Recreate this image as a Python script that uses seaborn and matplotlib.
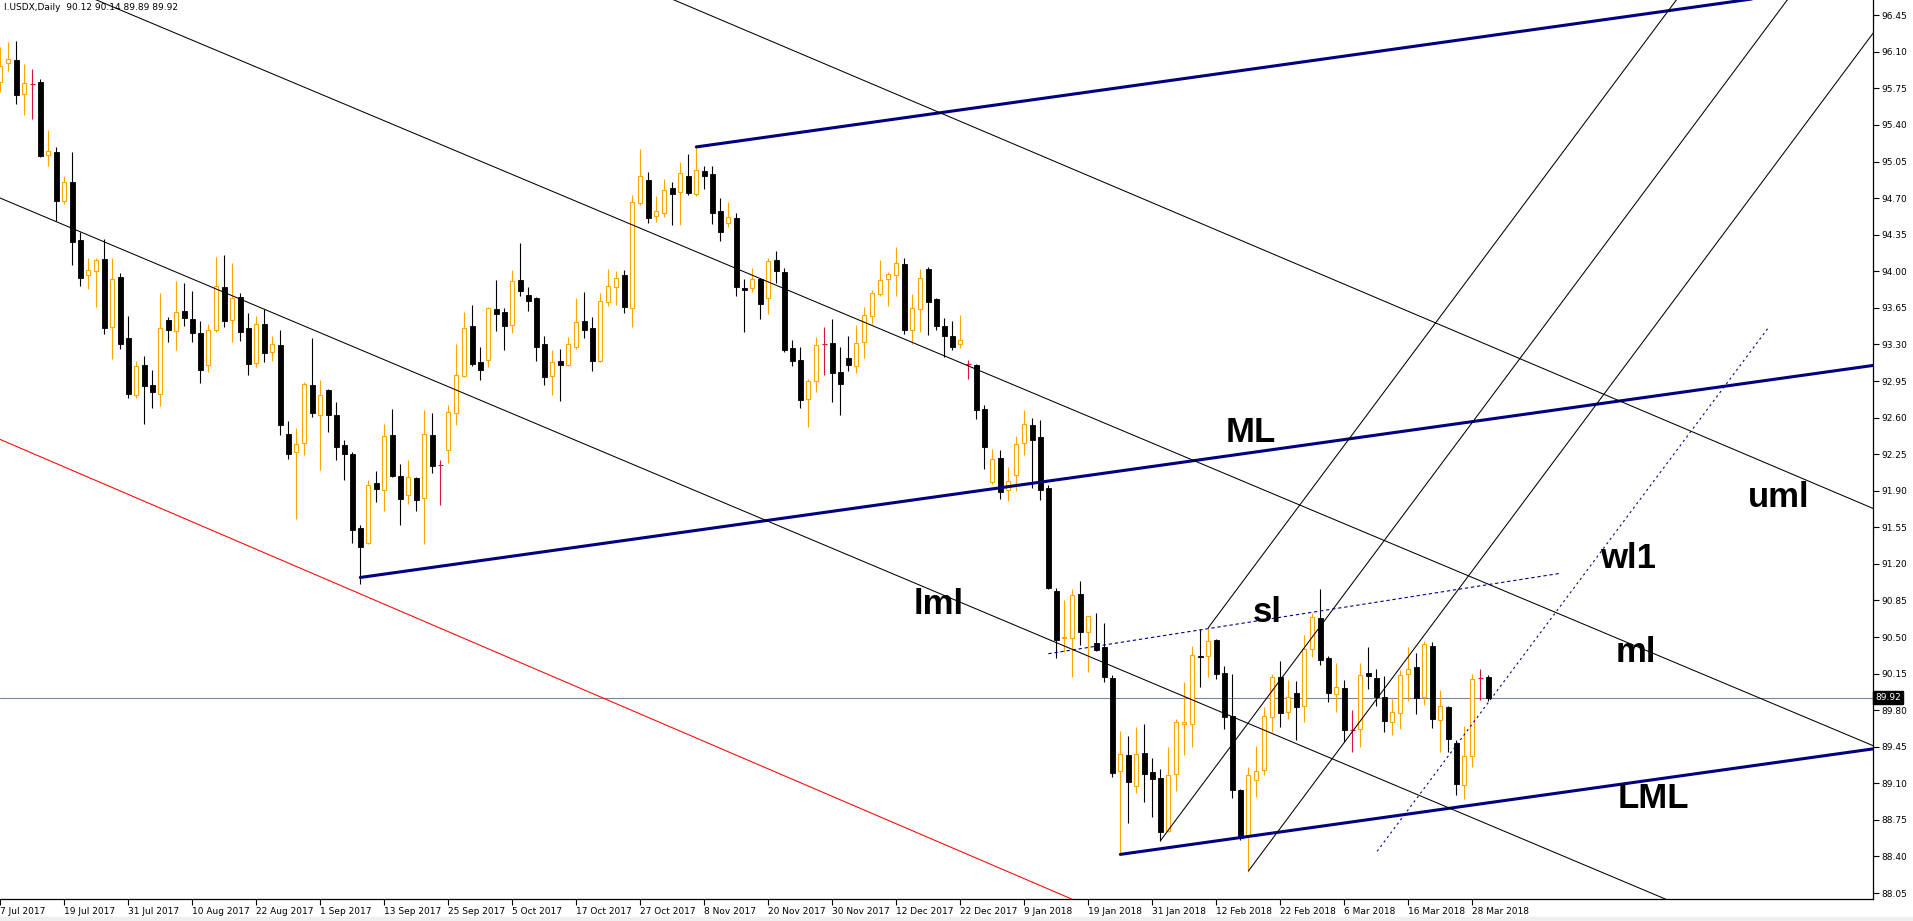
import numpy as np
import pandas as pd
import seaborn as sns
import matplotlib.pyplot as plt

# I.USDX daily candles, 7 Jul 2017 .. 30 Mar 2018
opens = [95.81, 95.99, 96.02, 95.70, 95.79, 95.81, 95.11, 95.14, 94.67, 94.85,
         94.30, 93.96, 94.00, 94.12, 93.47, 93.95, 93.36, 92.82, 93.10, 92.91,
         92.83, 93.53, 93.43, 93.62, 93.54, 93.41, 93.10, 93.44, 93.85, 93.53,
         93.75, 93.46, 93.12, 93.50, 93.23, 93.29, 92.44, 92.27, 92.36, 92.91,
         92.62, 92.86, 92.62, 92.34, 92.25, 91.54, 91.40, 91.97, 91.91, 92.43,
         92.04, 91.86, 92.02, 91.83, 92.43, 92.15, 92.29, 92.64, 93.00, 93.48,
         93.13, 93.15, 93.64, 93.61, 93.49, 93.92, 93.77, 93.74, 93.30, 93.00,
         93.14, 93.10, 93.28, 93.52, 93.46, 93.14, 93.71, 93.85, 93.96, 93.65,
         94.65, 94.87, 94.53, 94.56, 94.80, 94.76, 94.91, 94.74, 94.96, 94.93,
         94.58, 94.46, 94.51, 93.84, 93.84, 93.93, 93.74, 94.11, 93.99, 93.27,
         93.15, 92.78, 92.95, 93.30, 93.31, 93.04, 93.17, 93.09, 93.32, 93.57,
         93.78, 93.93, 93.96, 94.07, 93.44, 93.64, 94.02, 93.73, 93.48, 93.38,
         93.30, 93.11, 93.10, 92.68, 91.98, 92.21, 91.91, 92.05, 92.36, 92.53,
         92.41, 91.93, 90.94, 90.49, 90.49, 90.91, 90.55, 90.44, 90.40, 90.11,
         89.22, 89.37, 89.07, 89.39, 89.21, 89.15, 88.64, 89.19, 89.67, 89.67,
         90.32, 90.32, 90.47, 90.16, 89.74, 89.04, 88.60, 89.13, 89.23, 89.73,
         90.12, 89.78, 89.96, 89.84, 90.39, 90.68, 90.30, 89.95, 90.01, 89.61,
         89.62, 90.16, 90.11, 89.93, 89.69, 89.77, 90.15, 90.21, 89.93, 90.41,
         89.71, 89.83, 89.49, 89.08, 89.36, 90.11, 90.12]
highs = [96.15, 96.19, 96.20, 95.98, 95.94, 95.84, 95.35, 95.19, 94.91, 95.14,
         94.38, 94.13, 94.13, 94.31, 94.13, 93.98, 93.57, 93.14, 93.19, 93.06,
         93.79, 93.56, 93.91, 93.89, 93.81, 93.52, 93.50, 94.14, 94.16, 94.08,
         93.79, 93.60, 93.57, 93.64, 93.38, 93.44, 92.57, 92.50, 92.94, 93.36,
         92.96, 92.87, 92.75, 92.39, 92.27, 91.57, 92.00, 92.09, 92.54, 92.68,
         92.16, 92.19, 92.03, 92.67, 92.64, 92.19, 92.72, 93.30, 93.61, 93.68,
         93.28, 93.66, 93.92, 93.65, 94.01, 94.27, 93.85, 93.75, 93.38, 93.25,
         93.26, 93.37, 93.74, 93.80, 93.56, 93.79, 94.02, 94.00, 94.01, 94.73,
         95.17, 94.95, 94.72, 94.88, 94.85, 95.05, 95.12, 95.19, 95.01, 95.01,
         94.70, 94.66, 94.56, 93.93, 94.03, 93.94, 94.13, 94.19, 94.03, 93.34,
         93.28, 92.97, 93.37, 93.47, 93.54, 93.28, 93.38, 93.49, 93.66, 93.82,
         94.11, 93.99, 94.23, 94.13, 93.78, 94.02, 94.04, 93.74, 93.55, 93.52,
         93.58, 93.15, 93.11, 92.72, 92.30, 92.29, 92.13, 92.42, 92.67, 92.60,
         92.58, 91.95, 90.97, 90.85, 90.96, 91.04, 90.70, 90.73, 90.63, 90.14,
         89.60, 89.55, 89.64, 89.67, 89.34, 89.24, 89.45, 89.72, 90.07, 90.41,
         90.58, 90.59, 90.48, 90.22, 90.15, 89.05, 89.26, 89.46, 89.83, 90.15,
         90.27, 90.09, 90.08, 90.52, 90.73, 90.96, 90.32, 90.25, 90.09, 89.80,
         90.25, 90.40, 90.19, 90.13, 89.91, 90.18, 90.40, 90.35, 90.46, 90.45,
         89.99, 89.84, 89.51, 89.65, 90.15, 90.19, 90.14]
lows = [95.72, 95.92, 95.60, 95.50, 95.46, 95.09, 95.01, 94.48, 94.64, 94.06,
        93.86, 93.83, 93.66, 93.40, 93.16, 93.26, 92.79, 92.79, 92.54, 92.69,
        92.71, 93.32, 93.25, 93.48, 93.32, 92.93, 93.04, 93.42, 93.47, 93.32,
        93.33, 93.01, 93.08, 93.13, 93.14, 92.43, 92.20, 91.63, 92.24, 92.61,
        92.10, 92.46, 92.19, 92.00, 91.40, 91.01, 91.39, 91.79, 91.71, 92.03,
        91.57, 91.77, 91.71, 91.39, 92.07, 91.76, 92.17, 92.53, 92.99, 93.09,
        92.96, 93.08, 93.43, 93.25, 93.41, 93.76, 93.62, 93.14, 92.91, 92.82,
        92.76, 93.09, 93.26, 93.36, 93.05, 93.13, 93.67, 93.68, 93.60, 93.47,
        94.63, 94.46, 94.47, 94.52, 94.44, 94.44, 94.73, 94.72, 94.79, 94.45,
        94.29, 94.42, 93.76, 93.42, 93.80, 93.54, 93.59, 93.89, 93.23, 93.09,
        92.69, 92.51, 92.84, 93.01, 92.75, 92.62, 93.05, 93.03, 93.17, 93.50,
        93.76, 93.67, 93.76, 93.40, 93.30, 93.42, 93.39, 93.44, 93.18, 93.25,
        93.27, 92.97, 92.59, 92.11, 91.96, 91.82, 91.80, 91.90, 92.24, 91.93,
        91.81, 90.96, 90.30, 90.36, 90.12, 90.42, 90.17, 90.37, 90.07, 89.16,
        88.42, 88.72, 89.01, 88.92, 88.78, 88.55, 88.63, 89.03, 89.37, 89.45,
        90.02, 90.12, 90.10, 89.62, 88.96, 88.56, 88.26, 88.97, 89.18, 89.59,
        89.64, 89.72, 89.51, 89.69, 90.31, 90.23, 89.88, 89.78, 89.50, 89.40,
        89.45, 90.00, 89.84, 89.59, 89.56, 89.62, 89.89, 89.76, 89.85, 89.63,
        89.40, 89.40, 88.99, 88.95, 89.26, 89.90, 89.89]
closes = [95.96, 96.03, 95.69, 95.80, 95.79, 95.10, 95.15, 94.67, 94.85, 94.28,
          93.94, 94.01, 94.11, 93.46, 93.93, 93.30, 92.83, 93.09, 92.90, 92.84,
          93.46, 93.44, 93.61, 93.55, 93.41, 93.06, 93.44, 93.86, 93.52, 93.74,
          93.42, 93.11, 93.50, 93.22, 93.30, 92.53, 92.25, 92.35, 92.92, 92.64,
          92.82, 92.62, 92.32, 92.25, 91.52, 91.36, 91.95, 91.92, 92.42, 92.04,
          91.82, 92.03, 91.81, 92.44, 92.14, 92.15, 92.65, 93.01, 93.46, 93.11,
          93.06, 93.65, 93.59, 93.48, 93.91, 93.81, 93.72, 93.28, 92.99, 93.13,
          93.10, 93.30, 93.51, 93.44, 93.14, 93.72, 93.86, 93.94, 93.66, 94.66,
          94.91, 94.51, 94.58, 94.78, 94.74, 94.94, 94.75, 94.97, 94.91, 94.56,
          94.38, 94.52, 93.85, 93.82, 93.93, 93.69, 94.10, 94.00, 93.25, 93.14,
          92.77, 92.95, 93.29, 93.30, 93.03, 92.92, 93.10, 93.31, 93.58, 93.79,
          93.92, 93.97, 94.08, 93.44, 93.65, 93.94, 93.71, 93.48, 93.38, 93.28,
          93.34, 93.11, 92.67, 92.32, 92.20, 91.89, 91.99, 92.35, 92.54, 92.39,
          91.91, 90.97, 90.47, 90.50, 90.90, 90.55, 90.70, 90.38, 90.12, 89.20,
          89.38, 89.11, 89.38, 89.19, 89.14, 88.63, 89.18, 89.69, 89.69, 90.33,
          90.31, 90.46, 90.15, 89.73, 89.04, 88.58, 89.18, 89.22, 89.74, 90.12,
          89.77, 89.93, 89.83, 90.39, 90.69, 90.28, 89.96, 90.02, 89.61, 89.61,
          90.14, 90.13, 89.93, 89.70, 89.78, 90.14, 90.19, 89.92, 90.43, 89.72,
          89.84, 89.52, 89.09, 89.36, 90.10, 90.11, 89.92]

date_labels = ["7 Jul 2017", "19 Jul 2017", "31 Jul 2017", "10 Aug 2017", "22 Aug 2017",
               "1 Sep 2017", "13 Sep 2017", "25 Sep 2017", "5 Oct 2017", "17 Oct 2017",
               "27 Oct 2017", "8 Nov 2017", "20 Nov 2017", "30 Nov 2017", "12 Dec 2017",
               "22 Dec 2017", "9 Jan 2018", "19 Jan 2018", "31 Jan 2018", "12 Feb 2018",
               "22 Feb 2018", "6 Mar 2018", "16 Mar 2018", "28 Mar 2018"]
price_ticks = [88.05, 88.40, 88.75, 89.10, 89.45, 89.80, 90.15, 90.50, 90.85, 91.20,
               91.55, 91.90, 92.25, 92.60, 92.95, 93.30, 93.65, 94.00, 94.35, 94.70,
               95.05, 95.40, 95.75, 96.10, 96.45]

# pitchfork anchors (bar, price): start of ML, upper line, LML
fork_pts = [(45, 91.07), (87, 95.19), (140, 88.42)]
# descending black channel lines and the red line, two points each (bar, price)
line_ml = [(11.9, 96.60), (234.1, 89.46)]
line_uml = [(84.1, 96.60), (234.1, 91.73)]
line_lml = [(0.0, 94.70), (207.9, 88.00)]
line_red = [(0.0, 92.39), (134.0, 87.99)]
# steep parallels start at these bars, slope taken from the middle one
steep_starts = [(145, 88.55), (151, 90.59), (156, 88.26)]
steep_second = (223.4, 96.60)
line_sl = [(131, 90.34), (195, 91.11)]
line_wl1 = [(172.1, 88.45), (221.0, 93.46)]

labels = {"ML": (153.1, 92.37), "lml": (114.1, 90.72), "sl": (156.6, 90.64),
          "wl1": (200.0, 91.16), "ml": (201.9, 90.26), "uml": (218.4, 91.74),
          "LML": (202.1, 88.86)}

df = pd.DataFrame({"open": opens, "high": highs, "low": lows, "close": closes})
df["bar"] = np.arange(len(df))
df["up"] = df.close > df.open
df["doji"] = df.close == df.open

sns.set_theme(style="white")
plt.rcParams["font.family"] = ["DejaVu Sans"]

W, H = 1913, 921
fig = plt.figure(figsize=(W / 100, H / 100), dpi=100)
ax = fig.add_axes([0, 22 / H, 1873 / W, 899 / H])
x_lo, x_hi = -0.04, 234.08
ax.set_xlim(x_lo, x_hi)
ax.set_ylim(87.993, 96.596)

# candles
wick_col = np.where(df.doji, "#DC143C", np.where(df.up, "#FFA500", "black"))
ax.vlines(df.bar, df.low, df.high, colors=wick_col, lw=0.8, zorder=2)
up = df[df.up]
ax.bar(up.bar, up.close - up.open, bottom=up.open, width=0.5, facecolor="white",
       edgecolor="#FFA500", lw=0.8, zorder=3)
dn = df[df.close < df.open]
ax.bar(dn.bar, dn.open - dn.close, bottom=dn.close, width=0.55, color="black",
       edgecolor="black", lw=0.6, zorder=3)
dj = df[df.doji]
ax.hlines(dj.open, dj.bar - 0.3, dj.bar + 0.3, colors="#DC143C", lw=0.8, zorder=3)


def draw(p, q, color, lw, x_from=None, x_to=None, **kw):
    slope = (q[1] - p[1]) / (q[0] - p[0])
    xs = np.array([p[0] if x_from is None else x_from, q[0] if x_to is None else x_to])
    ys = p[1] + slope * (xs - p[0])
    sns.lineplot(x=xs, y=ys, color=color, lw=lw, ax=ax, zorder=4, sort=False, **kw)


# pitchfork (navy)
p1, p2, p3 = fork_pts
mid = ((p2[0] + p3[0]) / 2, (p2[1] + p3[1]) / 2)
fslope = (mid[1] - p1[1]) / (mid[0] - p1[0])
for p in fork_pts:
    draw(p, (p[0] + 10, p[1] + 10 * fslope), "#000080", 2.2, x_to=x_hi + 5)

# thin black channel and red line
for ln in (line_ml, line_uml, line_lml):
    draw(ln[0], ln[1], "black", 0.75, x_from=x_lo - 5, x_to=x_hi + 5)
draw(line_red[0], line_red[1], "red", 0.75, x_from=x_lo - 5, x_to=x_hi + 5)

# steep parallels
s_slope = (steep_second[1] - steep_starts[0][1]) / (steep_second[0] - steep_starts[0][0])
for p in steep_starts:
    draw(p, (p[0] + 10, p[1] + 10 * s_slope), "black", 0.75, x_to=x_hi + 5)

# dotted navy lines
draw(line_sl[0], line_sl[1], "#000080", 0.8, linestyle=(0, (3, 2.5)))
draw(line_wl1[0], line_wl1[1], "#000080", 0.8, linestyle=(0, (2, 3)))

# current price line
ax.axhline(closes[-1], color="#778899", lw=0.8, zorder=1)

for txt, (bx, py) in labels.items():
    ax.text(bx, py, txt, fontsize=25, fontweight="bold", family=["Liberation Sans", "DejaVu Sans"],
            color="black", ha="left", va="baseline", zorder=5)

# axes
sns.despine(ax=ax, left=True, top=True, right=False, bottom=False)
for s in ("right", "bottom"):
    ax.spines[s].set_color("black")
    ax.spines[s].set_linewidth(0.9)
ax.grid(False)
ax.yaxis.tick_right()
ax.set_yticks(price_ticks)
ax.set_yticklabels([f"{v:.2f}" for v in price_ticks])
ax.tick_params(axis="y", which="both", right=True, direction="out", length=4, width=0.8,
               pad=2, labelsize=6.5, colors="black")
ax.set_xticks(np.arange(0, 8 * len(date_labels), 8))
ax.set_xticklabels(date_labels)
ax.tick_params(axis="x", which="both", bottom=True, direction="out", length=4, width=0.8,
               pad=2, labelsize=6.5, colors="black")
for lbl in ax.get_xticklabels():
    lbl.set_ha("left")
ax.set_xlabel("")
ax.set_ylabel("")

ax.text(1.0012, closes[-1], f"{closes[-1]:.2f}", transform=ax.get_yaxis_transform(),
        ha="left", va="center", color="white", fontsize=6.5, zorder=6,
        bbox=dict(boxstyle="square,pad=0.2", fc="black", ec="black"))

fig.text(0.002, 0.997, f"I.USDX,Daily  {opens[-1]:.2f} {highs[-1]:.2f} {lows[-1]:.2f} {closes[-1]:.2f}",
         fontsize=6.5, va="top", ha="left", color="black")
fig.patches.append(plt.Rectangle((0, 0), 1, 4 / H, transform=fig.transFigure,
                                 color="#efefef", zorder=0))

fig.savefig("out.png", dpi=100)
